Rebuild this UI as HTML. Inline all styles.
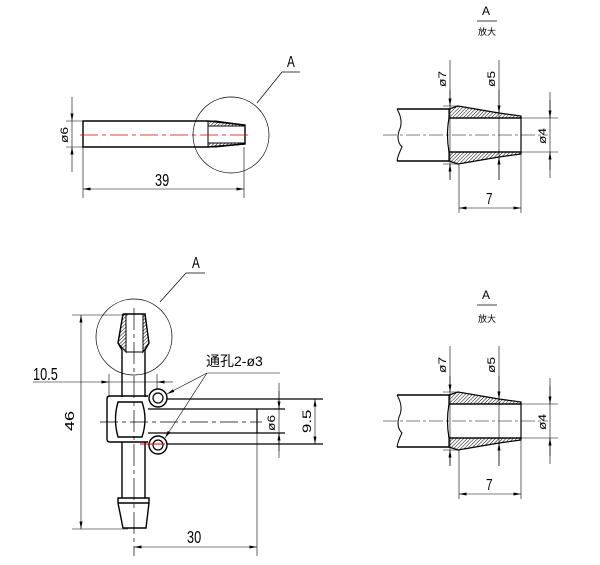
<!DOCTYPE html>
<html><head><meta charset="utf-8"><style>
html,body{margin:0;padding:0;background:#fff}
svg{display:block}
text{font-family:"Liberation Sans Narrow","Liberation Sans",sans-serif;fill:#000}
</style></head><body>
<svg width="600" height="565" viewBox="0 0 600 565" xmlns="http://www.w3.org/2000/svg">
<defs>
<pattern id="h" patternUnits="userSpaceOnUse" width="2.5" height="2.5" patternTransform="rotate(45)">
<line x1="0" y1="0" x2="0" y2="2.5" stroke="#000" stroke-width="1"/></pattern>
<marker id="a" viewBox="0 0 10 4" refX="10" refY="2" markerWidth="8" markerHeight="3" orient="auto-start-reverse" markerUnits="userSpaceOnUse"><path d="M0,0 L10,2 L0,4z" fill="#000"/></marker>
<g id="det">
  <line x1="383" y1="0" x2="548" y2="0" stroke="#000" stroke-width="0.6" stroke-dasharray="14,3,3,3"/>
  <path d="M397,-26 L449,-26 M397,26 L449,26" stroke="#000" stroke-width="1.4" fill="none"/>
  <path d="M397,-26 Q404,-14 399,-4 Q396,6 402,12 Q398,20 397,26" stroke="#000" stroke-width="1" fill="none"/>
  <polygon points="449,-26 458,-29 499,-22 521,-19 521,-17 449,-17" fill="url(#h)" stroke="#000" stroke-width="1.2"/>
  <polygon points="449,26 458,29 499,22 521,19 521,17 449,17" fill="url(#h)" stroke="#000" stroke-width="1.2"/>
  <path d="M449,-17 L521,-17 L521,17 L449,17 M449,-17 Q446,0 449,17" stroke="#000" stroke-width="1.2" fill="none"/>
  <path d="M443,-29 L458,-29 M443,29 L458,29" stroke="#000" stroke-width="0.6"/>
  <line x1="450" y1="-75" x2="450" y2="45" stroke="#000" stroke-width="0.6"/>
  <line x1="450" y1="-45" x2="450" y2="-29" stroke="#000" stroke-width="0.6" marker-end="url(#a)"/>
  <line x1="450" y1="45" x2="450" y2="29" stroke="#000" stroke-width="0.6" marker-end="url(#a)"/>
  <line x1="499" y1="-75" x2="499" y2="45" stroke="#000" stroke-width="0.6"/>
  <line x1="499" y1="-45" x2="499" y2="-22" stroke="#000" stroke-width="0.6" marker-end="url(#a)"/>
  <line x1="499" y1="45" x2="499" y2="22" stroke="#000" stroke-width="0.6" marker-end="url(#a)"/>
  <text transform="translate(446,-48) rotate(-90) scale(1.15,0.9)" font-size="12">ø7</text>
  <text transform="translate(495,-48) rotate(-90) scale(1.15,0.9)" font-size="12">ø5</text>
  <path d="M521,-17 L558,-17 M521,17 L558,17" stroke="#000" stroke-width="0.6"/>
  <line x1="550" y1="-43" x2="550" y2="43" stroke="#000" stroke-width="0.6"/>
  <line x1="550" y1="-35" x2="550" y2="-17" stroke="#000" stroke-width="0.6" marker-end="url(#a)"/>
  <line x1="550" y1="35" x2="550" y2="17" stroke="#000" stroke-width="0.6" marker-end="url(#a)"/>
  <text transform="translate(546,9) rotate(-90) scale(1.15,0.9)" font-size="12">ø4</text>
  <path d="M459,29 L459,78 M521,19 L521,78" stroke="#000" stroke-width="0.6"/>
  <line x1="459" y1="73" x2="521" y2="73" stroke="#000" stroke-width="0.6" marker-start="url(#a)" marker-end="url(#a)"/>
  <text transform="translate(486,69) scale(0.9,1.2)" font-size="13">7</text>
</g>
</defs>

<g stroke="#000" fill="none">
  <path d="M83,121 L208,121 L245,125 L245,144 L208,147 L83,147 Z" stroke-width="1.4"/>
  <polygon points="208,121 216,121 245,125 245,126 208,126" fill="url(#h)" stroke-width="1"/>
  <polygon points="208,147 216,147 245,144 245,143 208,143" fill="url(#h)" stroke-width="1"/>
  <path d="M208,126 L245,126 M208,143 L245,143 M208,126 L208,143" stroke-width="1"/>
  <line x1="80" y1="135" x2="252" y2="135" stroke="#d00" stroke-width="0.8" stroke-dasharray="18,4,4,4"/>
  <circle cx="231" cy="135" r="38" stroke-width="0.7"/>
  <path d="M257,103 L282,72 L300,72" stroke-width="0.7"/>
  <path d="M66,121 L83,121 M66,147 L83,147" stroke-width="0.6"/>
  <line x1="72" y1="97" x2="72" y2="121" stroke-width="0.6" marker-end="url(#a)"/>
  <line x1="72" y1="172" x2="72" y2="147" stroke-width="0.6" marker-end="url(#a)"/>
  <line x1="72" y1="121" x2="72" y2="147" stroke-width="0.6"/>
  <path d="M83,147 L83,198 M244,147 L244,198" stroke-width="0.6"/>
  <line x1="83" y1="189" x2="244" y2="189" stroke-width="0.6" marker-start="url(#a)" marker-end="url(#a)"/>
</g>
<text transform="translate(287,67) scale(0.9,1.2)" font-size="13">A</text>
<text transform="translate(68,143) rotate(-90) scale(1.15,0.9)" font-size="12">ø6</text>
<text transform="translate(155,186) scale(0.85,1.2)" font-size="15">39</text>

<text x="482" y="15" font-size="12">A</text>
<line x1="477" y1="21" x2="497" y2="21" stroke="#000" stroke-width="0.7"/>
<text x="478" y="35" font-size="9" style='font-family:"Noto Sans CJK SC",sans-serif'>放大</text>
<use href="#det" transform="translate(0,135)"/>
<text x="482" y="299" font-size="12">A</text>
<line x1="477" y1="305" x2="497" y2="305" stroke="#000" stroke-width="0.7"/>
<text x="478" y="322" font-size="9" style='font-family:"Noto Sans CJK SC",sans-serif'>放大</text>
<use href="#det" transform="translate(0,421)"/>

<g stroke="#000" fill="none">
  <polygon points="123,314 126,314 126,352 118,343" fill="url(#h)" stroke-width="1"/>
  <polygon points="145,314 143,314 143,352 149,343" fill="url(#h)" stroke-width="1"/>
  <path d="M123,314 L145,314 L149,343 L145,350 L145,397 M123,314 L118,343 L122,350 L122,397" stroke-width="1.4"/>
  <path d="M126,314 L126,352 L143,352 L143,314" stroke-width="1"/>
  <path d="M122,442 L122,498 M145,442 L145,498" stroke-width="1.4"/>
  <path d="M118,498 L149,498 L149,503 L146,528 L123,528 L118,503 Z M118,503 L149,503" stroke-width="1.4"/>
  <path d="M148,396 L110,396 Q107,396 107,399 L107,439 Q107,442 110,442 L148,442" stroke-width="1.4"/>
  <path d="M118,402 L142,402 Q148,419 142,437 L118,437 Q113,419 118,402 Z" stroke-width="1.4"/>
  <path d="M167,399 L323,399 M167,444 L323,444" stroke-width="1.2"/>
  <path d="M148,409 L257,409 L257,433 L148,433 M285,409 L257,409 M285,433 L257,433" stroke-width="1.2"/>
  <circle cx="158" cy="398" r="9" stroke-width="1.4" fill="#fff"/>
  <circle cx="158" cy="398" r="5" stroke-width="1.2"/>
  <circle cx="158" cy="445" r="9" stroke-width="1.4" fill="#fff"/>
  <circle cx="158" cy="445" r="5" stroke-width="1.2"/>
  <line x1="140" y1="444" x2="165" y2="444" stroke="#d00" stroke-width="1"/>
  <line x1="100" y1="422" x2="262" y2="422" stroke-width="0.7" stroke-dasharray="18,4,4,4"/>
  <line x1="134" y1="308" x2="134" y2="556" stroke-width="0.7" stroke-dasharray="22,4,4,4"/>
  <circle cx="134" cy="337" r="38" stroke-width="0.7"/>
  <path d="M160,302 L186,273 L205,273" stroke-width="0.7"/>
  <path d="M72,315 L128,315 M72,529 L128,529" stroke-width="0.6"/>
  <line x1="81" y1="315" x2="81" y2="529" stroke-width="0.6" marker-start="url(#a)" marker-end="url(#a)"/>
  <path d="M109,374 L109,397 M157,374 L157,389" stroke-width="0.6"/>
  <line x1="33" y1="382" x2="109" y2="382" stroke-width="0.6" marker-end="url(#a)"/>
  <line x1="173" y1="382" x2="157" y2="382" stroke-width="0.6" marker-end="url(#a)"/>
  <line x1="109" y1="382" x2="157" y2="382" stroke-width="0.6"/>
  <path d="M257,433 L257,556" stroke-width="0.6"/>
  <line x1="134" y1="547" x2="257" y2="547" stroke-width="0.6" marker-start="url(#a)" marker-end="url(#a)"/>
  <line x1="279" y1="383" x2="279" y2="458" stroke-width="0.6"/>
  <line x1="279" y1="391" x2="279" y2="409" stroke-width="0.6" marker-end="url(#a)"/>
  <line x1="279" y1="451" x2="279" y2="433" stroke-width="0.6" marker-end="url(#a)"/>
  <line x1="315" y1="399" x2="315" y2="444" stroke-width="0.6" marker-start="url(#a)" marker-end="url(#a)"/>
  <path d="M207,373 L280,373" stroke-width="0.6"/>
  <line x1="207" y1="373" x2="167" y2="394" stroke-width="0.6" marker-end="url(#a)"/>
  <line x1="207" y1="373" x2="165" y2="438" stroke-width="0.6" marker-end="url(#a)"/>
</g>
<text transform="translate(192,268) scale(0.9,1.2)" font-size="13">A</text>
<text transform="translate(74,431) rotate(-90) scale(1.2,0.85)" font-size="15">46</text>
<text transform="translate(33,380) scale(0.85,1.2)" font-size="15">10.5</text>
<text transform="translate(187,543) scale(0.85,1.2)" font-size="15">30</text>
<text transform="translate(275,431) rotate(-90) scale(1.15,0.9)" font-size="12">ø6</text>
<text transform="translate(311,433) rotate(-90) scale(1.2,0.85)" font-size="14">9.5</text>
<text x="206" y="366" font-size="14" style='font-family:"Liberation Sans Narrow","Liberation Sans","Noto Sans CJK SC",sans-serif'>通孔2-ø3</text>
</svg>
</body></html>
